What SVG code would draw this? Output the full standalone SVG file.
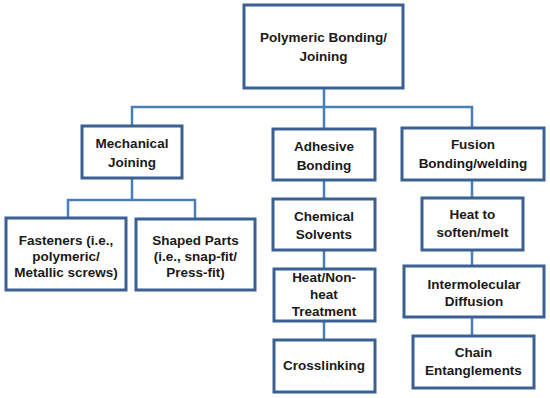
<svg xmlns="http://www.w3.org/2000/svg" width="550" height="398" viewBox="0 0 550 398">
<style>
.box{fill:#fff;stroke:#3b6192;stroke-width:3}
.con{fill:none;stroke:#4a7ebb;stroke-width:2.5}
text{font-family:"Liberation Sans",Arial,sans-serif;font-weight:bold;font-size:13.5px;fill:#1a1a1a;text-anchor:middle}
</style>
<rect width="550" height="398" fill="#fff"/>
<g id="connectors">
<path class="con" d="M324 88V107M132 126V107H472V128M324 107V129"/>
<path class="con" d="M132 178V200M68 219V200H195V219"/>
<path class="con" d="M324 180V199M324 250V269M324 321V340"/>
<path class="con" d="M472 180V198M472 250V266M472 317V336"/>
</g>
<g id="polymeric"><rect class="box" x="244" y="5" width="159" height="83"/><text x="323.5" y="42">Polymeric Bonding/</text><text x="323.5" y="61">Joining</text></g>
<g id="mechanical"><rect class="box" x="82" y="126" width="100" height="52"/><text x="132" y="148">Mechanical</text><text x="132" y="167">Joining</text></g>
<g id="adhesive"><rect class="box" x="273" y="129" width="102" height="51"/><text x="324" y="151">Adhesive</text><text x="324" y="170">Bonding</text></g>
<g id="fusion"><rect class="box" x="402" y="128" width="142" height="52"/><text x="473" y="149">Fusion</text><text x="473" y="168">Bonding/welding</text></g>
<g id="fasteners"><rect class="box" x="6" y="218" width="120" height="72"/><text x="66" y="245">Fasteners (i.e.,</text><text x="66" y="261">polymeric/</text><text x="66" y="277">Metallic screws)</text></g>
<g id="shaped"><rect class="box" x="136" y="219" width="119" height="71"/><text x="195.5" y="245">Shaped Parts</text><text x="195.5" y="261">(i.e., snap-fit/</text><text x="195.5" y="277">Press-fit)</text></g>
<g id="chemical"><rect class="box" x="273" y="199" width="102" height="51"/><text x="324" y="221">Chemical</text><text x="324" y="239">Solvents</text></g>
<g id="heatnonheat"><rect class="box" x="274" y="269" width="101" height="52"/><text x="324" y="282">Heat/Non-</text><text x="324" y="299">heat</text><text x="324" y="316">Treatment</text></g>
<g id="crosslinking"><rect class="box" x="274" y="340" width="101" height="52"/><text x="324" y="370">Crosslinking</text></g>
<g id="heatsoften"><rect class="box" x="422" y="198" width="101" height="52"/><text x="472.5" y="219">Heat to</text><text x="472.5" y="237">soften/melt</text></g>
<g id="intermolecular"><rect class="box" x="404" y="266" width="140" height="51"/><text x="474" y="289">Intermolecular</text><text x="474" y="306">Diffusion</text></g>
<g id="chain"><rect class="box" x="413" y="336" width="121" height="52"/><text x="473.5" y="357">Chain</text><text x="473.5" y="375">Entanglements</text></g>
</svg>
